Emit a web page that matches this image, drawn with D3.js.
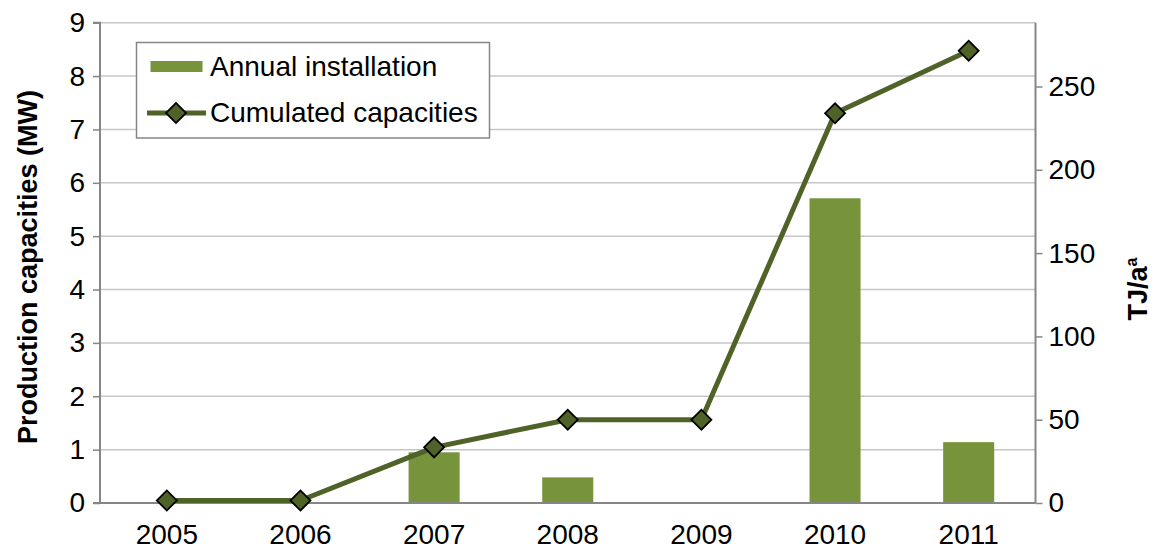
<!DOCTYPE html>
<html>
<head>
<meta charset="utf-8">
<script src="https://cdn.jsdelivr.net/npm/d3@7"></script>
<style>
html,body{margin:0;padding:0;background:#fff;}
svg{display:block;font-family:"Liberation Sans",Arial,sans-serif;}
</style>
</head>
<body>
<svg id="chart" width="1155" height="550"></svg>
<script>
const years = ["2005","2006","2007","2008","2009","2010","2011"];
const annualInstallation = [0, 0, 0.95, 0.48, 0, 5.71, 1.14];   // MW (left axis)
const cumulatedCapacities = [1.5, 1.5, 33.4, 50, 50, 234, 271.5]; // TJ/a (right axis)
const leftTicks = [0,1,2,3,4,5,6,7,8,9];
const rightTicks = [0,50,100,150,200,250];
const seriesNames = ["Annual installation", "Cumulated capacities"];

const svg = d3.select("#chart");
const L = 100, R = 1035.5, T = 22.7, B = 503;
const barColor = "#77933c", lineColor = "#4f6228", axisColor = "#868686", gridColor = "#c6c6c6";
const fs = 28;

const x = d3.scaleBand().domain(years).range([L, R]).paddingInner(0.618).paddingOuter(0.309);
const yL = d3.scaleLinear().domain([0, 9]).range([B, T]);
const yR = d3.scaleLinear().domain([0, 288.3]).range([B, T]);

// gridlines
svg.append("g").selectAll("line").data(leftTicks.slice(1)).join("line")
  .attr("x1", L).attr("x2", R).attr("y1", d => yL(d)).attr("y2", d => yL(d))
  .attr("stroke", gridColor).attr("stroke-width", 1.5);

// bars
svg.append("g").selectAll("rect").data(years.map((y,i)=>({y, v: annualInstallation[i]}))).join("rect")
  .attr("x", d => x(d.y)).attr("width", x.bandwidth())
  .attr("y", d => yL(d.v)).attr("height", d => B - yL(d.v))
  .attr("fill", barColor);

// axes
const axL = svg.append("g").attr("transform", `translate(${L},0)`)
  .call(d3.axisLeft(yL).tickValues(leftTicks).tickSize(7).tickPadding(8).tickFormat(d3.format("d")));
const axR = svg.append("g").attr("transform", `translate(${R},0)`)
  .call(d3.axisRight(yR).tickValues(rightTicks).tickSize(7).tickPadding(6).tickFormat(d3.format("d")));
const axB = svg.append("g").attr("transform", `translate(0,${B})`)
  .call(d3.axisBottom(x).tickSize(0).tickPadding(21));
[axL, axR, axB].forEach(a => {
  a.select(".domain").attr("stroke", axisColor).attr("stroke-width", 2);
  a.selectAll(".tick line").attr("stroke", axisColor).attr("stroke-width", 1.5);
  a.selectAll("text").attr("font-size", fs).attr("fill", "#000").attr("font-family", '"Liberation Sans",Arial,sans-serif');
});
axL.select(".domain").attr("d", `M-7,${T}H0V${B}H-7`);
axR.select(".domain").attr("d", `M0,${T}V${B}`);
axB.select(".domain").attr("d", `M${L},0H${R}`);
axB.selectAll("text").attr("dy", "0.71em");

// line
const pts = years.map((y,i)=>({y, v: cumulatedCapacities[i]}));
const line = d3.line().x(d => x(d.y) + x.bandwidth()/2).y(d => yR(d.v));
svg.append("path").datum(pts).attr("d", line).attr("fill","none")
  .attr("stroke", lineColor).attr("stroke-width", 5).attr("stroke-linejoin","round");
const diamond = d3.symbol().type(d3.symbolSquare).size(200);
svg.append("g").selectAll("path").data(pts).join("path")
  .attr("d", diamond())
  .attr("transform", d => `translate(${x(d.y)+x.bandwidth()/2},${yR(d.v)}) rotate(45)`)
  .attr("fill", lineColor).attr("stroke", "#000").attr("stroke-width", 1.8);

// axis titles
svg.append("text").attr("transform", `translate(37,267) rotate(-90)`)
  .attr("text-anchor","middle").attr("font-size", 27).attr("font-weight","bold")
  .text("Production capacities (MW)");
const rt = svg.append("text").attr("transform", `translate(1147,289) rotate(-90)`)
  .attr("text-anchor","middle").attr("font-size", 27).attr("font-weight","bold");
rt.append("tspan").text("TJ/a");
rt.append("tspan").attr("font-size", 16).attr("dy", -10).text("a");

// legend
const lg = svg.append("g");
lg.append("rect").attr("x", 136.5).attr("y", 42.5).attr("width", 353).attr("height", 95.5)
  .attr("fill", "#fff").attr("stroke", axisColor).attr("stroke-width", 1.5);
lg.append("rect").attr("x", 150.5).attr("y", 61).attr("width", 52).attr("height", 11).attr("fill", barColor);
lg.append("text").attr("x", 210).attr("y", 76).attr("font-size", fs).text(seriesNames[0]);
lg.append("line").attr("x1", 147).attr("x2", 206).attr("y1", 113).attr("y2", 113)
  .attr("stroke", lineColor).attr("stroke-width", 5);
lg.append("path").attr("d", diamond()).attr("transform", "translate(176,113) rotate(45)")
  .attr("fill", lineColor).attr("stroke", "#000").attr("stroke-width", 1.8);
lg.append("text").attr("x", 210).attr("y", 122).attr("font-size", fs).text(seriesNames[1]);
</script>
</body>
</html>
